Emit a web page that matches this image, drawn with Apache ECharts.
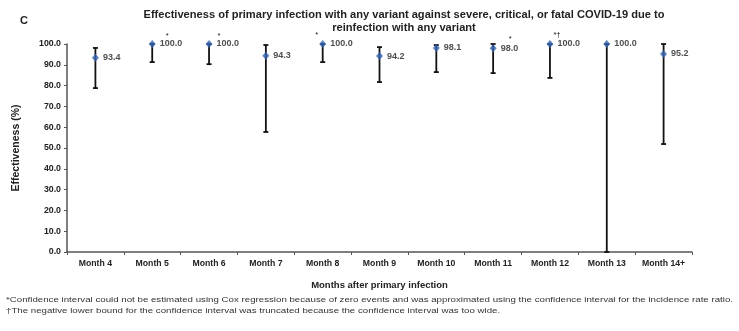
<!DOCTYPE html>
<html><head><meta charset="utf-8">
<script src="https://cdn.jsdelivr.net/npm/echarts@6/dist/echarts.min.js"></script>
<style>html,body{margin:0;padding:0;background:#fff}#c{width:739px;height:331px}</style>
</head><body><div id="c"></div>
<script>
const categories = ['Month 4','Month 5','Month 6','Month 7','Month 8','Month 9','Month 10','Month 11','Month 12','Month 13','Month 14+'];
const effectiveness = [93.4, 100.0, 100.0, 94.3, 100.0, 94.2, 98.1, 98.0, 100.0, 100.0, 95.2];
const ciLower = [78.8, 91.3, 90.3, 57.7, 91.3, 81.7, 86.5, 86.0, 83.7, 0.0, 51.9];
const ciUpper = [98.1, 100.0, 100.0, 99.5, 100.0, 98.5, 99.5, 100.0, 100.0, 100.0, 100.0];
const notes = ['', '*', '*', '', '*', '', '', '*', '*\u2020', '', ''];
const yTicks = [0,10,20,30,40,50,60,70,80,90,100];
const footnotes = [
  '*Confidence interval could not be estimated using Cox regression because of zero events and was approximated using the confidence interval for the incidence rate ratio.',
  '\u2020The negative lower bound for the confidence interval was truncated because the confidence interval was too wide.'
];

const noteOffsets = [[0,0],[15,-8],[10,-8],[0,0],[-6,-9],[0,0],[0,0],[17,-9],[7,-9],[0,0],[0,0]];
const FONT = 'Liberation Sans, Arial, sans-serif';

// horizontal stretch so the first footnote spans the width as in the reference
const ctx = document.createElement('canvas').getContext('2d');
const FN_SIZE = 8;
ctx.font = FN_SIZE + 'px Liberation Sans';
const fnScale = 727 / ctx.measureText(footnotes[0]).width;

const chart = echarts.init(document.getElementById('c'), null, {renderer:'canvas'});
chart.setOption({
  animation:false,
  backgroundColor:'#fff',
  textStyle:{fontFamily:FONT},
  title:[
    {text:'Effectiveness of primary infection with any variant against severe, critical, or fatal COVID-19 due to\nreinfection with any variant',
     left:399, top:3, textAlign:'center',
     textStyle:{fontSize:11.1, fontWeight:'bold', color:'#222', lineHeight:13, fontFamily:FONT, align:'center'}},
    {text:'C', left:15, top:10, textStyle:{fontSize:11, fontWeight:'bold', color:'#222', fontFamily:FONT}}
  ],
  grid:{left:67, right:47, top:44, bottom:79, containLabel:false},
  xAxis:{type:'category', data:categories,
    name:'Months after primary infection', nameLocation:'middle', nameGap:28,
    nameTextStyle:{fontSize:9.5, fontWeight:'bold', color:'#222', fontFamily:FONT},
    axisLine:{lineStyle:{color:'#555', width:1.5}},
    axisTick:{show:true, length:3, lineStyle:{color:'#555'}},
    axisLabel:{fontSize:8.7, fontWeight:'bold', color:'#222', margin:7, interval:0, fontFamily:FONT}},
  yAxis:{type:'value', min:0, max:100, interval:10,
    name:'Effectiveness (%)', nameLocation:'middle', nameGap:45,
    nameTextStyle:{fontSize:10.5, fontWeight:'bold', color:'#222', fontFamily:FONT},
    axisLine:{show:true, lineStyle:{color:'#555', width:1.5}},
    axisTick:{show:true, length:3, lineStyle:{color:'#555'}},
    splitLine:{show:false},
    axisLabel:{fontSize:8.8, fontWeight:'bold', color:'#222', margin:6, fontFamily:FONT,
      formatter:v=>yTicks.includes(v)? v.toFixed(1):''}},
  series:[
    {type:'custom', z:2,
     data:categories.map((c,i)=>[i, ciLower[i], ciUpper[i]]),
     renderItem:(params, api)=>{
       const lo = api.coord([api.value(0), api.value(1)]);
       const hi = api.coord([api.value(0), api.value(2)]);
       const w = 2.5;
       const st = {stroke:'#111', lineWidth:1.8};
       return {type:'group', children:[
         {type:'line', shape:{x1:lo[0], y1:lo[1], x2:hi[0], y2:hi[1]}, style:st},
         {type:'line', shape:{x1:lo[0]-w, y1:lo[1], x2:lo[0]+w, y2:lo[1]}, style:st},
         {type:'line', shape:{x1:hi[0]-w, y1:hi[1], x2:hi[0]+w, y2:hi[1]}, style:st}
       ]};
     }},
    {type:'scatter', z:3, symbol:'diamond', symbolSize:[7,8],
     itemStyle:{color:'#3465b0'},
     data:effectiveness.map((v,i)=>[i,v]),
     label:{show:true, position:'right', distance:4, fontSize:9, fontWeight:'bold', color:'#222', fontFamily:FONT,
       formatter:p=>p.value[1].toFixed(1)}},
    {type:'custom', z:4,
     data:categories.map((c,i)=>[i, effectiveness[i], i]),
     renderItem:(params, api)=>{
       const i = api.value(2);
       if(!notes[i]) return null;
       const p = api.coord([api.value(0), api.value(1)]);
       return {type:'text', x:p[0]+noteOffsets[i][0], y:p[1]+noteOffsets[i][1],
         style:{text:notes[i], fontSize:7.5, fill:'#222', fontFamily:FONT, align:'center', verticalAlign:'middle'}};
     }}
  ],
  graphic:footnotes.map((t,k)=>({type:'text', x:6, y:296+k*11, scaleX:fnScale,
    style:{text:t, fontSize:FN_SIZE, fill:'#333', fontFamily:FONT}}))
});
</script></body></html>
